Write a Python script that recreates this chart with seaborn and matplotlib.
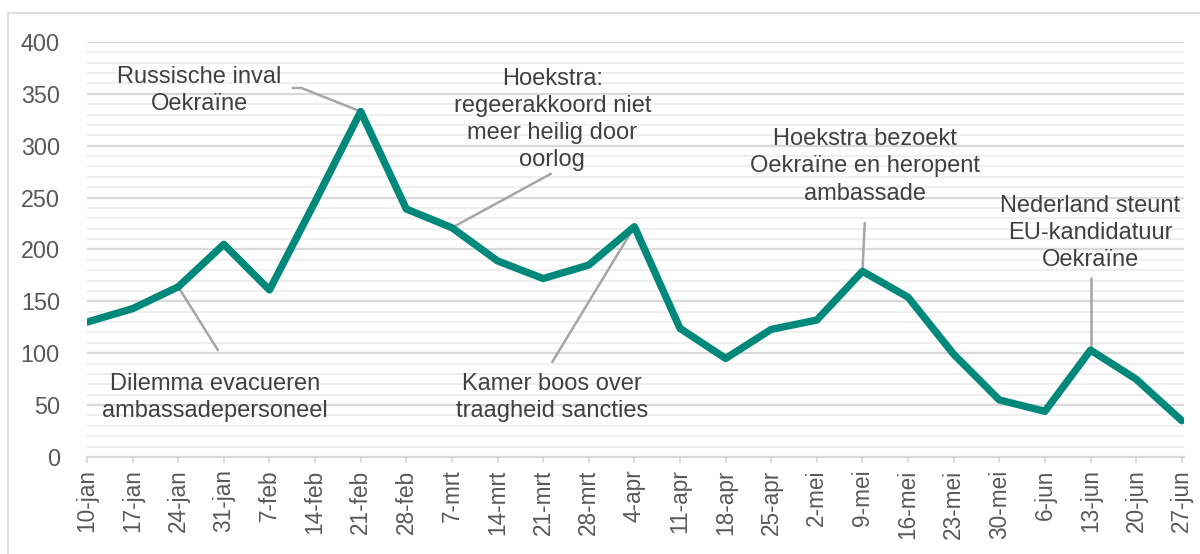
import numpy as np
import pandas as pd
import matplotlib
matplotlib.use("Agg")
import matplotlib.pyplot as plt
import seaborn as sns
from matplotlib.ticker import MultipleLocator
from matplotlib.patches import Rectangle

weeks = ["10-jan", "17-jan", "24-jan", "31-jan", "7-feb", "14-feb", "21-feb", "28-feb",
         "7-mrt", "14-mrt", "21-mrt", "28-mrt", "4-apr", "11-apr", "18-apr", "25-apr",
         "2-mei", "9-mei", "16-mei", "23-mei", "30-mei", "6-jun", "13-jun", "20-jun", "27-jun"]
counts = [130, 143, 164, 205, 161, 246, 333, 239,
          221, 189, 172, 185, 222, 124, 95, 123,
          132, 179, 154, 99, 55, 44, 103, 75, 35]

# annotation texts, text position (x, y) and leader line points
notes = ["Russische inval\nOekraïne",
         "Dilemma evacueren\nambassadepersoneel",
         "Hoekstra:\nregeerakkoord niet\nmeer heilig door\noorlog",
         "Kamer boos over\ntraagheid sancties",
         "Hoekstra bezoekt\nOekraïne en heropent\nambassade",
         "Nederland steunt\nEU-kandidatuur\nOekraïne"]
note_x = [2.47, 2.8, 10.2, 10.2, 17.05, 22.0]
note_y = [353, 57, 325, 57, 280, 216]
leader_x = [[4.51, 4.70, 6], [2.87, 2], [10.17, 8], [10.2, 12], [17.05, 17], [22, 22]]
leader_y = [[355.7, 355.7, 333], [103, 164], [273, 221], [91.6, 222], [225.5, 179], [172.5, 103]]

df = pd.DataFrame({"week": weeks, "count": counts})

sns.set_style("white")
plt.rcParams["font.family"] = ["Liberation Sans", "DejaVu Sans"]

fig = plt.figure(figsize=(12, 5.54), dpi=100)
ax = fig.add_axes([0.0725, 0.1751, 0.9142, 0.7491])

sns.lineplot(data=df, x="week", y="count", ax=ax, color="#00897B", linewidth=5.3,
             sort=False, solid_joinstyle="round", solid_capstyle="round", zorder=3)

for i in range(len(notes)):
    ax.plot(leader_x[i], leader_y[i], color="#a6a6a6", linewidth=1.8, zorder=2)
    ax.text(note_x[i], note_y[i], notes[i], ha="center", va="center", fontsize=17,
            color="#404040", linespacing=1.3, zorder=4)

ax.set_ylim(0, 400)
ax.set_xlim(0, len(weeks) - 1 + 0.05)
ax.yaxis.set_major_locator(MultipleLocator(50))
ax.yaxis.set_minor_locator(MultipleLocator(10))
ax.grid(which="major", axis="y", color="#d9d9d9", linewidth=1.6, zorder=0)
ax.grid(which="minor", axis="y", color="#efefef", linewidth=1.4, zorder=0)
ax.set_axisbelow(True)

for s in ["top", "right", "left"]:
    ax.spines[s].set_visible(False)
ax.spines["bottom"].set_color("#d9d9d9")
ax.spines["bottom"].set_linewidth(1.6)

ax.tick_params(axis="x", which="major", bottom=True, length=4, width=1.2, color="#d9d9d9",
               labelsize=16.3, labelcolor="#595959", pad=5, labelrotation=90)
ax.tick_params(axis="y", which="both", left=False, labelsize=16.8, labelcolor="#595959", pad=16)
ax.set_xlabel("")
ax.set_ylabel("")

fig.patches.append(Rectangle((8 / 1200, -0.05), 1.1, 1.05 - 13 / 554, transform=fig.transFigure,
                             fill=False, edgecolor="#d9d9d9", linewidth=1.2))

plt.savefig("out.png", dpi=100)
